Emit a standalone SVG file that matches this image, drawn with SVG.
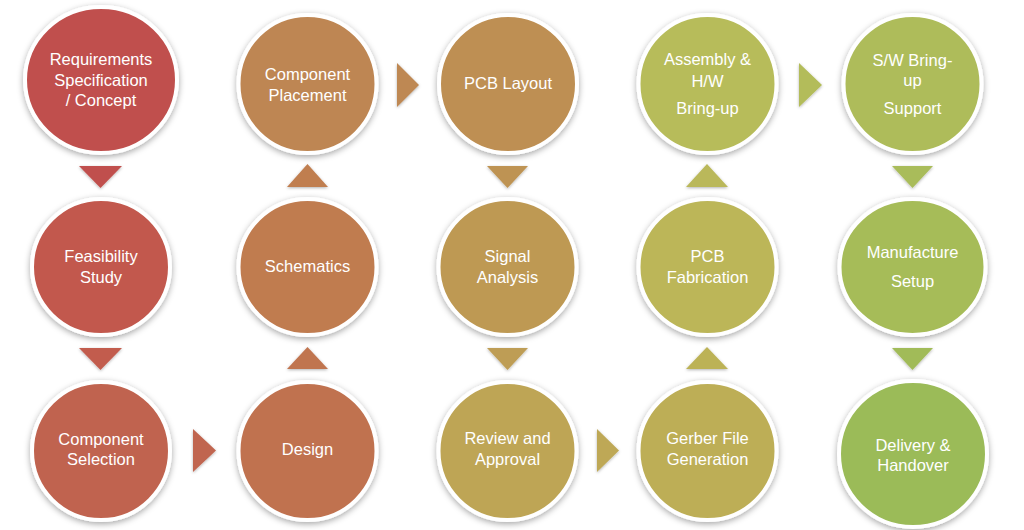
<svg xmlns="http://www.w3.org/2000/svg" width="1024" height="530" viewBox="0 0 1024 530">
<defs>
<filter id="sh" x="-20%" y="-20%" width="140%" height="140%">
<feDropShadow dx="0" dy="2" stdDeviation="3" flood-color="#000" flood-opacity="0.35"/>
</filter>
<filter id="tsh" x="-30%" y="-30%" width="160%" height="160%">
<feDropShadow dx="0" dy="1" stdDeviation="1.5" flood-color="#000" flood-opacity="0.3"/>
</filter>
</defs>
<style>
.n{stroke:#fff;stroke-width:4;filter:url(#sh)}
.t{font-family:"Liberation Sans",Arial,sans-serif;font-size:16.5px;fill:#fff;text-anchor:middle}
.a{filter:url(#tsh)}
</style>
<rect width="1024" height="530" fill="#fff"/>
<g id="connectors">
<polygon class="a" points="79,166 122,166 100.5,188" fill="#C0504D"/>
<polygon class="a" points="79,348 122,348 100.5,370" fill="#C25C4E"/>
<polygon class="a" points="193,429 216,450.5 193,472" fill="#C0654F"/>
<polygon class="a" points="287,369 328,369 307.5,347" fill="#C07450"/>
<polygon class="a" points="287,187 328,187 307.5,164" fill="#C07E50"/>
<polygon class="a" points="397,63 419,85 397,107" fill="#BE8852"/>
<polygon class="a" points="487,166 528,166 507.5,188" fill="#BE9352"/>
<polygon class="a" points="487,348 528,348 507.5,370" fill="#BE9D55"/>
<polygon class="a" points="597,429 619,450.5 597,472" fill="#BEA856"/>
<polygon class="a" points="686,369 728,369 707,347" fill="#BCB257"/>
<polygon class="a" points="686,187 728,187 707,164" fill="#BAB85A"/>
<polygon class="a" points="799,63 822,85 799,107" fill="#B3BC5A"/>
<polygon class="a" points="892,166 933,166 912.5,188" fill="#A9BC5A"/>
<polygon class="a" points="892,348 933,348 912.5,370" fill="#A1BB58"/>
</g>
<g id="n1"><ellipse class="n" cx="101" cy="80" rx="76" ry="73" fill="#C0504D"/>
<text class="t" x="101" y="65">Requirements</text><text class="t" x="101" y="86">Specification</text><text class="t" x="101" y="106">/ Concept</text></g>
<g id="n2"><ellipse class="n" cx="101" cy="267" rx="69" ry="68" fill="#C2594D"/>
<text class="t" x="101" y="262">Feasibility</text><text class="t" x="101" y="283">Study</text></g>
<g id="n3"><ellipse class="n" cx="101" cy="451" rx="69" ry="69" fill="#C0644F"/>
<text class="t" x="101" y="445">Component</text><text class="t" x="101" y="465">Selection</text></g>
<g id="n4"><ellipse class="n" cx="307.5" cy="451" rx="69" ry="69" fill="#C07250"/>
<text class="t" x="307.5" y="455">Design</text></g>
<g id="n5"><ellipse class="n" cx="307.5" cy="267" rx="69" ry="68" fill="#C07C50"/>
<text class="t" x="307.5" y="272">Schematics</text></g>
<g id="n6"><ellipse class="n" cx="307.5" cy="84" rx="69" ry="69" fill="#BE8652"/>
<text class="t" x="307.5" y="80">Component</text><text class="t" x="307.5" y="101">Placement</text></g>
<g id="n7"><ellipse class="n" cx="508" cy="84" rx="69" ry="69" fill="#BE8F52"/>
<text class="t" x="508" y="89">PCB Layout</text></g>
<g id="n8"><ellipse class="n" cx="507.5" cy="267" rx="69" ry="68" fill="#BE9953"/>
<text class="t" x="507.5" y="262">Signal</text><text class="t" x="507.5" y="283">Analysis</text></g>
<g id="n9"><ellipse class="n" cx="507.5" cy="451" rx="69" ry="69" fill="#BEA555"/>
<text class="t" x="507.5" y="444">Review and</text><text class="t" x="507.5" y="465">Approval</text></g>
<g id="n10"><ellipse class="n" cx="707.5" cy="451" rx="69" ry="69" fill="#BDAE56"/>
<text class="t" x="707.5" y="444">Gerber File</text><text class="t" x="707.5" y="465">Generation</text></g>
<g id="n11"><ellipse class="n" cx="707.5" cy="267" rx="69" ry="68" fill="#BCB659"/>
<text class="t" x="707.5" y="262">PCB</text><text class="t" x="707.5" y="283">Fabrication</text></g>
<g id="n12"><ellipse class="n" cx="707.5" cy="84" rx="69" ry="69" fill="#B7BC5A"/>
<text class="t" x="707.5" y="65">Assembly &amp;</text><text class="t" x="707.5" y="87">H/W</text><text class="t" x="707.5" y="114">Bring-up</text></g>
<g id="n13"><ellipse class="n" cx="912.5" cy="84" rx="69" ry="69" fill="#AEBC5A"/>
<text class="t" x="912.5" y="66">S/W Bring-</text><text class="t" x="912.5" y="86">up</text><text class="t" x="912.5" y="114">Support</text></g>
<g id="n14"><ellipse class="n" cx="912.5" cy="267" rx="73" ry="68" fill="#A6BC58"/>
<text class="t" x="912.5" y="258">Manufacture</text><text class="t" x="912.5" y="287">Setup</text></g>
<g id="n15"><ellipse class="n" cx="913" cy="454" rx="74" ry="73" fill="#9BBB59"/>
<text class="t" x="913" y="451">Delivery &amp;</text><text class="t" x="913" y="471">Handover</text></g>
</svg>
